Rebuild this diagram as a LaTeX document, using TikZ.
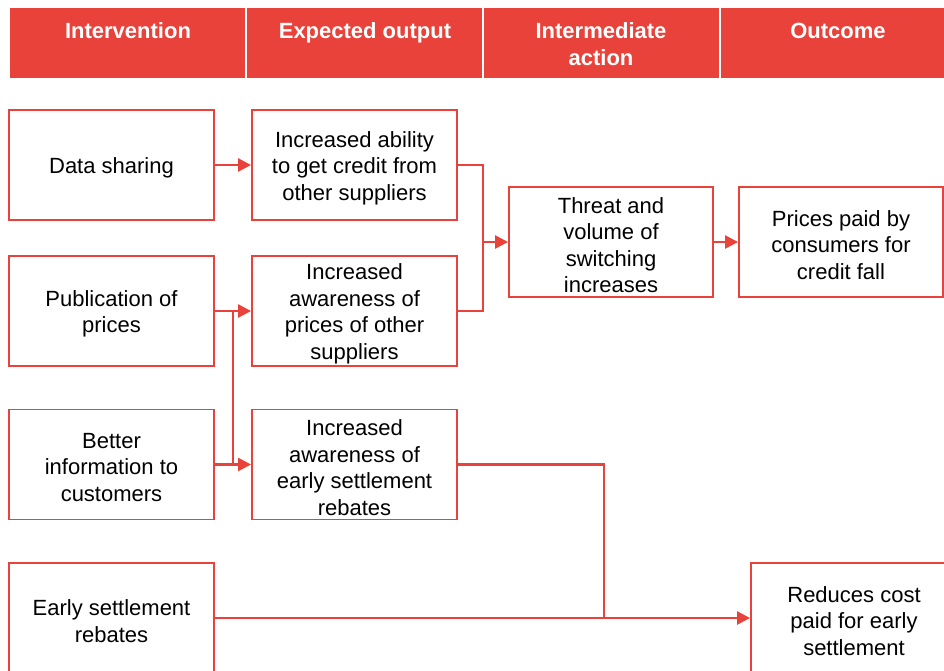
\documentclass[tikz,border=0pt]{standalone}
\usepackage{fontspec}
\setmainfont{Liberation Sans}
\usetikzlibrary{arrows.meta,calc}
\definecolor{brandred}{HTML}{E8423A}

\begin{document}
\begin{tikzpicture}[x=1pt,y=-1pt,
  band/.style={fill=brandred, draw=none},
  headtext/.style={text=white, font=\fontsize{22}{27}\selectfont\bfseries, align=center, inner sep=0pt, anchor=base},
  box/.style={draw=brandred, line width=1.9pt, fill=white, minimum width=205pt, minimum height=110pt},
  boxtext/.style={align=center, inner sep=0pt, yshift=-3pt, font=\fontsize{22}{26.5}\selectfont},
  conn/.style={draw=brandred, line width=2.5pt},
  tip/.style={conn, -{Triangle[length=13pt,width=13pt]}}
]
\useasboundingbox (0,0) rectangle (944,671);

% column header band
\fill[band] (10,8) rectangle (245,78);
\fill[band] (247,8) rectangle (482,78);
\fill[band] (484,8) rectangle (719,78);
\fill[band] (721,8) rectangle (944,78);
\node[headtext] (h1) at (128,39) {Intervention};
\node[headtext] (h2) at (365,39) {Expected output};
\node[headtext] (h3) at (601,39) {Intermediate};
\node[headtext] (h3b) at (601,66) {action};
\node[headtext] (h4) at (838,39) {Outcome};

% interventions
\node[box, label={[boxtext]center:Data sharing}] (ds)  at (111.5,165) {};
\node[box, label={[boxtext]center:Publication of\\prices}] (pub) at (111.5,311) {};
\node[box, label={[boxtext]center:Better\\information to\\customers}] (bet) at (111.5,464.5) {};
\node[box, label={[boxtext]center:Early settlement\\rebates}] (esr) at (111.5,618) {};

% expected outputs
\node[box, label={[boxtext]center:Increased ability\\to get credit from\\other suppliers}] (iab) at (354.5,165) {};
\node[box, label={[boxtext]center:Increased\\awareness of\\prices of other\\suppliers}] (iap) at (354.5,311) {};
\node[box, label={[boxtext]center:Increased\\awareness of\\early settlement\\rebates}] (iae) at (354.5,464.5) {};

% intermediate action and outcomes
\node[box, minimum width=204pt, label={[boxtext]center:Threat and\\volume of\\switching\\increases}] (thr) at (611,242) {};
\node[box, minimum width=204pt, label={[boxtext]center:Prices paid by\\consumers for\\credit fall}] (pri) at (841,242) {};
\node[box, minimum width=196pt, label={[boxtext, xshift=5pt]center:Reduces cost\\paid for early\\settlement}] (red) at (849,618) {};

% junction points
\coordinate (bus1) at ($(pub.east)!0.5!(iap.west)$);
\coordinate (bus2) at ($(bet.east)!0.5!(iae.west)$);
\coordinate (mrg) at (483,242);
\coordinate (drop) at (604,618);

% links
\draw[tip] (ds) -- (iab);
\draw[tip] (pub) -- (iap);
\draw[tip] (bet) -- (iae);
\draw[conn] (bus1) -- (bus2);
\draw[conn] (iab.east) -| (mrg) |- (iap.east);
\draw[tip] (mrg) -- (thr.west);
\draw[tip] (thr) -- (pri);
\draw[conn] (iae.east) -| (drop);
\draw[tip] (esr) -- (red);
\end{tikzpicture}
\end{document}
